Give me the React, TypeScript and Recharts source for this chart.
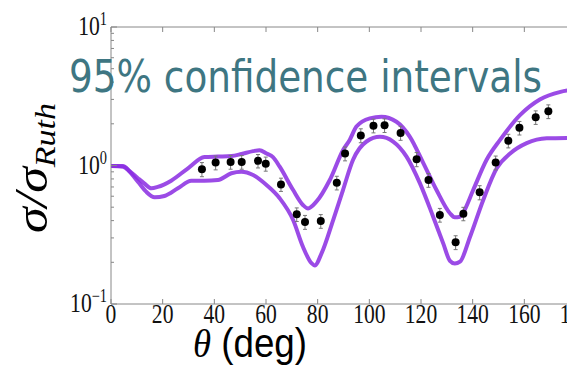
import React from 'react';
import { ComposedChart, Line, Scatter, ErrorBar, XAxis, YAxis } from 'recharts';

// measured cross sections (theta in deg, sigma / sigma_Ruth)
const dataTheta = [35.2, 40.5, 46.3, 50.6, 56.9, 59.9, 65.8, 71.9, 75.1, 81.2, 87.4, 90.6, 96.7, 101.6, 105.9, 112.1, 118.3, 122.9, 127.3, 133.4, 136.4, 142.7, 148.9, 153.8, 158.1, 164.4, 169.3];
const dataSigma = [0.94, 1.05, 1.06, 1.06, 1.08, 1.03, 0.73, 0.444, 0.391, 0.397, 0.751, 1.22, 1.65, 1.94, 1.95, 1.72, 1.11, 0.786, 0.44, 0.279, 0.449, 0.64, 1.05, 1.51, 1.87, 2.23, 2.46];
const dataErr = [0.11, 0.12, 0.12, 0.12, 0.12, 0.12, 0.08, 0.05, 0.045, 0.045, 0.085, 0.14, 0.19, 0.22, 0.22, 0.2, 0.13, 0.09, 0.05, 0.032, 0.05, 0.075, 0.12, 0.17, 0.21, 0.25, 0.28];

// upper edge of the 95% band
const upperTheta = [0, 4.6, 7.5, 10.4, 13, 15.6, 18.1, 23.3, 29.8, 36.2, 41.4, 46.6, 50.5, 55, 57.5, 60.2, 62.7, 65.3, 70.5, 74.3, 76.3, 79.5, 84.7, 89.8, 92.4, 95, 100.2, 104.7, 110.5, 115.7, 120.9, 126, 131.2, 133, 135.1, 136.4, 140.2, 145.4, 150.6, 158.3, 166, 174, 180];
const upperSigma = [0.99, 0.99, 0.9, 0.81, 0.74, 0.684, 0.7, 0.777, 0.955, 1.15, 1.16, 1.17, 1.21, 1.27, 1.29, 1.22, 1.15, 0.98, 0.665, 0.519, 0.49, 0.548, 0.786, 1.29, 1.53, 1.91, 2.19, 2.25, 2.07, 1.61, 1.04, 0.665, 0.452, 0.423, 0.427, 0.46, 0.665, 1.1, 1.53, 2.31, 3.0, 3.4, 3.55];

// lower edge of the 95% band
const lowerTheta = [0, 4.6, 10.4, 13.5, 16.9, 20.7, 25.9, 31.1, 36.2, 41.4, 46.6, 50.5, 55, 60.2, 65.3, 70.5, 74.3, 77.6, 78.9, 81.5, 86, 89.8, 93.7, 98.9, 104.1, 109.2, 114.4, 119.6, 124.7, 128.6, 131.2, 133.1, 135.1, 139, 144.1, 149.3, 154.5, 160.9, 168.7, 180];
const lowerSigma = [0.99, 0.98, 0.764, 0.65, 0.589, 0.602, 0.684, 0.777, 0.777, 0.786, 0.879, 0.902, 0.854, 0.723, 0.58, 0.404, 0.259, 0.197, 0.19, 0.232, 0.404, 0.665, 1.1, 1.49, 1.61, 1.49, 1.16, 0.743, 0.427, 0.274, 0.205, 0.196, 0.202, 0.306, 0.564, 0.955, 1.22, 1.45, 1.57, 1.58];

const xTicks = [0, 20, 40, 60, 80, 100, 120, 140, 160, 180];
const yTicks = [0.1, 0.2, 0.3, 0.4, 0.5, 0.6, 0.7, 0.8, 0.9, 1, 2, 3, 4, 5, 6, 7, 8, 9, 10];
const yMajor: Record<string, string> = { '0.1': '\u22121', '1': '0', '10': '1' };

const points = dataTheta.map((t, i) => ({ theta: t, sigma: dataSigma[i], err: dataErr[i] }));
const upper = upperTheta.map((t, i) => ({ theta: t, sigma: upperSigma[i] }));
const lower = lowerTheta.map((t, i) => ({ theta: t, sigma: lowerSigma[i] }));

const AXIS = '#888';
const BAND = '#8a2be2';
const SERIF = '"Liberation Serif", "DejaVu Serif", serif';

const BottomTick = (props: any) => {
  const { x, y, payload } = props;
  return (
    <g>
      <line x1={x} x2={x} y1={y} y2={y - 5} stroke={AXIS} />
      <text transform={`translate(${x},${y + 19}) scale(0.8,1)`} textAnchor="middle" fontFamily={SERIF} fontSize={27} fill="#111">
        {payload.value}
      </text>
    </g>
  );
};

const TopTick = (props: any) => {
  const { x, y } = props;
  return <line x1={x} x2={x} y1={y} y2={y + 5} stroke={AXIS} />;
};

const LeftTick = (props: any) => {
  const { x, y, payload } = props;
  const sup = yMajor[String(payload.value)];
  if (sup === undefined) {
    return <line x1={x} x2={x + 3} y1={y} y2={y} stroke={AXIS} />;
  }
  return (
    <g>
      <line x1={x} x2={x + 6} y1={y} y2={y} stroke={AXIS} />
      <text transform={`translate(${x - 4},${y + 8}) scale(0.8,1)`} textAnchor="end" fontFamily={SERIF} fontSize={27} fill="#111">
        10
        <tspan dy={-10} fontSize={18}>{sup}</tspan>
      </text>
    </g>
  );
};

const Dot = (props: any) => <circle cx={props.cx} cy={props.cy} r={4} fill="#000" />;

export default function App() {
  return (
    <div style={{ position: 'absolute', left: 0, top: 0, width: 567, height: 371, overflow: 'hidden', background: '#fff' }}>
      <ComposedChart width={600} height={371} margin={{ top: 26, right: 24, bottom: 66, left: 110 }}>
        <XAxis
          xAxisId="b"
          type="number"
          dataKey="theta"
          domain={[0, 180]}
          ticks={xTicks}
          interval={0}
          height={1}
          tickSize={0}
          tickMargin={0}
          tick={<BottomTick />}
          stroke={AXIS}
          allowDataOverflow
        />
        <XAxis
          xAxisId="t"
          orientation="top"
          type="number"
          dataKey="theta"
          domain={[0, 180]}
          ticks={xTicks}
          interval={0}
          height={1}
          tickSize={0}
          tickMargin={0}
          tick={<TopTick />}
          stroke={AXIS}
          allowDataOverflow
        />
        <YAxis
          scale="log"
          type="number"
          dataKey="sigma"
          domain={[0.1, 10]}
          ticks={yTicks}
          interval={0}
          width={1}
          tickSize={0}
          tickMargin={0}
          tick={<LeftTick />}
          stroke={AXIS}
          allowDataOverflow
        />
        <Line xAxisId="b" data={upper} dataKey="sigma" type="monotone" stroke={BAND} strokeOpacity={0.85} strokeWidth={4} dot={false} isAnimationActive={false} />
        <Line xAxisId="b" data={lower} dataKey="sigma" type="monotone" stroke={BAND} strokeOpacity={0.85} strokeWidth={4} dot={false} isAnimationActive={false} />
        <Scatter xAxisId="b" data={points} dataKey="sigma" shape={<Dot />} isAnimationActive={false}>
          <ErrorBar dataKey="err" direction="y" width={2} stroke="#777" strokeWidth={1} isAnimationActive={false} />
        </Scatter>
      </ComposedChart>
      <svg width={567} height={371} style={{ position: 'absolute', left: 0, top: 0, pointerEvents: 'none' }}>
        <text x={69} y={92} fontFamily='"DejaVu Sans", sans-serif' fontSize={45} fill="#3e7682" textLength={473} lengthAdjust="spacingAndGlyphs">
          95% confidence intervals
        </text>
        <text transform="translate(47,233) rotate(-90)" fontFamily={SERIF} fontStyle="italic" fontSize={46} fill="#000" textLength={130} lengthAdjust="spacingAndGlyphs">
          σ/σ<tspan dy={8} fontSize={30}>Ruth</tspan>
        </text>
        <text x={193} y={357} fontSize={40} fill="#000" textLength={114} lengthAdjust="spacingAndGlyphs">
          <tspan fontFamily={SERIF} fontStyle="italic">θ</tspan>
          <tspan fontFamily='"Liberation Sans", Arial, sans-serif'> (deg)</tspan>
        </text>
      </svg>
    </div>
  );
}
